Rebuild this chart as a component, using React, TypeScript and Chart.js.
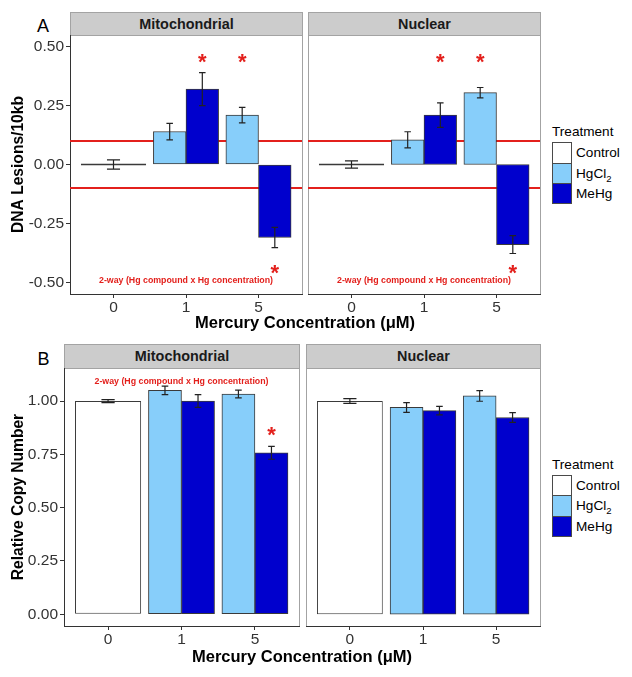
import React, { useEffect, useRef } from 'react';
import { Chart, registerables } from 'chart.js';

Chart.register(...registerables);

// ---------------- data ----------------
const concentrations = ['0', '1', '5'];
const controlConcs = ['0'];
const treatedConcs = ['1', '5'];

const lesionTickValues = [-0.5, -0.25, 0, 0.25, 0.5];
const lesionTickLabels = ['-0.50', '-0.25', '0.00', '0.25', '0.50'];
const copyTickValues = [0, 0.25, 0.5, 0.75, 1];
const copyTickLabels = ['0.00', '0.25', '0.50', '0.75', '1.00'];

// A – DNA lesions, mitochondrial
const lesionMitoControl = [0.0];
const lesionMitoControlSE = [0.02];
const lesionMitoHgCl2 = [0.14, 0.21];
const lesionMitoHgCl2SE = [0.035, 0.033];
const lesionMitoMeHg = [0.32, -0.31];
const lesionMitoMeHgSE = [0.07, 0.043];

// A – DNA lesions, nuclear
const lesionNucControl = [0.0];
const lesionNucControlSE = [0.015];
const lesionNucHgCl2 = [0.105, 0.305];
const lesionNucHgCl2SE = [0.034, 0.022];
const lesionNucMeHg = [0.21, -0.34];
const lesionNucMeHgSE = [0.052, 0.038];

const lesionThresholds = [0.1, -0.1];

// B – relative copy number, mitochondrial
const copyMitoControl = [1.0];
const copyMitoControlSE = [0.007];
const copyMitoHgCl2 = [1.05, 1.033];
const copyMitoHgCl2SE = [0.02, 0.018];
const copyMitoMeHg = [1.0, 0.757];
const copyMitoMeHgSE = [0.03, 0.03];

// B – relative copy number, nuclear
const copyNucControl = [1.0];
const copyNucControlSE = [0.011];
const copyNucHgCl2 = [0.97, 1.024];
const copyNucHgCl2SE = [0.023, 0.025];
const copyNucMeHg = [0.955, 0.923];
const copyNucMeHgSE = [0.02, 0.023];

// significance markers: [concentration, treatment, y]
const lesionMitoStars: [string, string, number][] = [['1', 'MeHg', 0.46], ['5', 'HgCl2', 0.46], ['5', 'MeHg', -0.435]];
const lesionNucStars: [string, string, number][] = [['1', 'MeHg', 0.46], ['5', 'HgCl2', 0.46], ['5', 'MeHg', -0.435]];
const copyMitoStars: [string, string, number][] = [['5', 'MeHg', 0.868]];
const copyNucStars: [string, string, number][] = [];

const noteText = '2-way (Hg compound x Hg concentration)';
const lesionNoteY = -0.495;
const copyNoteY = 1.092;

// ---------------- styles / layout ----------------
const FONT = "'Liberation Sans', Arial, Helvetica, sans-serif";
const COLORS: Record<string, string> = { Control: '#FFFFFF', HgCl2: '#87CEFA', MeHg: '#0000CD' };
const RED = '#E3201C';
const DODGE = 0.225;
const X_MIN = -0.6;
const X_MAX = 2.6;
const PAD = 4;
const X_AXIS_H = 28;

type Spec = {
  control: number[]; controlSE: number[];
  hg: number[]; hgSE: number[];
  me: number[]; meSE: number[];
  yMin: number; yMax: number;
  tickValues: number[]; tickLabels: string[];
  thresholds: number[];
  stars: [string, string, number][];
  noteY: number | null;
  yTitle: string | null;
};

function barDataset(label: string, concs: string[], values: number[], errs: number[], offset: number) {
  return {
    type: 'bar',
    label,
    concs,
    errors: errs,
    data: values.map((v, i) => ({ x: concentrations.indexOf(concs[i]) + offset, y: v })),
    backgroundColor: COLORS[label],
    borderColor: '#3A3A3A',
    borderWidth: 1,
    borderSkipped: false,
    grouped: false,
    categoryPercentage: 1,
    barPercentage: label === 'Control' ? 2 : 1,
    minBarLength: 2,
    order: 1,
  };
}

const panelPlugin = {
  id: 'panelDecor',
  beforeDraw(chart: any) {
    const { ctx, chartArea: a } = chart;
    ctx.save();
    ctx.strokeStyle = '#A3A3A3';
    ctx.lineWidth = 1;
    ctx.strokeRect(a.left + 0.5, a.top + 0.5, a.right - a.left, a.bottom - a.top);
    ctx.restore();
  },
  afterDatasetsDraw(chart: any) {
    const { ctx } = chart;
    const ys = chart.scales.y;
    const xs = chart.scales.x;
    const spec: Spec = chart.options.plugins.panelDecor.spec;
    // error bars
    chart.data.datasets.forEach((ds: any, di: number) => {
      if (!ds.errors) return;
      const meta = chart.getDatasetMeta(di);
      meta.data.forEach((bar: any, i: number) => {
        const v = ds.data[i].y;
        const e = ds.errors[i];
        const t = ys.getPixelForValue(v + e);
        const b = ys.getPixelForValue(v - e);
        const half = bar.width * 0.1;
        ctx.save();
        ctx.strokeStyle = '#222';
        ctx.lineWidth = 1.2;
        ctx.beginPath();
        ctx.moveTo(bar.x, t); ctx.lineTo(bar.x, b);
        ctx.moveTo(bar.x - half, t); ctx.lineTo(bar.x + half, t);
        ctx.moveTo(bar.x - half, b); ctx.lineTo(bar.x + half, b);
        ctx.stroke();
        ctx.restore();
      });
    });
    // significance stars
    spec.stars.forEach(([c, tr, yv]) => {
      const di = chart.data.datasets.findIndex((d: any) => d.label === tr);
      if (di < 0) return;
      const ds: any = chart.data.datasets[di];
      const idx = ds.concs.indexOf(c);
      const el: any = chart.getDatasetMeta(di).data[idx];
      const size = 22;
      ctx.save();
      ctx.fillStyle = RED;
      ctx.font = `bold ${size}px ${FONT}`;
      ctx.textAlign = 'center';
      ctx.textBaseline = 'alphabetic';
      ctx.fillText('*', el.x, ys.getPixelForValue(yv) + size * 0.58);
      ctx.restore();
    });
    // annotation
    if (spec.noteY !== null) {
      ctx.save();
      ctx.fillStyle = RED;
      ctx.font = `bold 8.8px ${FONT}`;
      ctx.textAlign = 'center';
      ctx.textBaseline = 'middle';
      ctx.fillText(noteText, xs.getPixelForValue(concentrations.indexOf('1')), ys.getPixelForValue(spec.noteY));
      ctx.restore();
    }
  },
};

function buildConfig(spec: Spec, isLeft: boolean, yAxisW: number) {
  const datasets: any[] = [
    ...spec.thresholds.map((t) => ({
      type: 'line',
      label: 'threshold',
      data: [{ x: X_MIN, y: t }, { x: X_MAX, y: t }],
      borderColor: RED,
      borderWidth: 2,
      pointRadius: 0,
      order: 5,
    })),
    barDataset('Control', controlConcs, spec.control, spec.controlSE, 0),
    barDataset('HgCl2', treatedConcs, spec.hg, spec.hgSE, -DODGE),
    barDataset('MeHg', treatedConcs, spec.me, spec.meSE, DODGE),
  ];
  return {
    type: 'bar',
    data: { datasets },
    plugins: [panelPlugin],
    options: {
      animation: false,
      responsive: false,
      devicePixelRatio: 1,
      layout: { autoPadding: false, padding: { left: isLeft ? 0 : PAD, right: PAD, top: PAD, bottom: 0 } },
      plugins: {
        legend: { display: false },
        tooltip: { enabled: false },
        panelDecor: { spec },
      },
      scales: {
        x: {
          type: 'linear',
          min: X_MIN,
          max: X_MAX,
          offset: false,
          afterBuildTicks: (s: any) => { s.ticks = concentrations.map((_, i) => ({ value: i })); },
          afterFit: (s: any) => { s.height = X_AXIS_H; s.paddingLeft = 0; s.paddingRight = 0; },
          ticks: {
            autoSkip: false,
            maxRotation: 0,
            padding: 0,
            color: '#333',
            font: { family: FONT, size: 15.5 },
            callback: (v: number) => concentrations[v],
          },
          grid: { display: true, drawOnChartArea: false, drawTicks: true, tickLength: 4, color: '#333', offset: false },
          border: { display: true, color: '#333', width: 1 },
        },
        y: {
          type: 'linear',
          display: isLeft,
          min: spec.yMin,
          max: spec.yMax,
          afterBuildTicks: (s: any) => { s.ticks = spec.tickValues.map((v) => ({ value: v })); },
          afterFit: (s: any) => { s.width = isLeft ? yAxisW : 0; s.paddingTop = 0; s.paddingBottom = 0; },
          ticks: {
            autoSkip: false,
            padding: 2,
            color: '#333',
            font: { family: FONT, size: 15.5 },
            callback: (v: number) => spec.tickLabels[spec.tickValues.indexOf(v)],
          },
          grid: { display: true, drawOnChartArea: false, drawTicks: true, tickLength: 4, color: '#333' },
          border: { display: true, color: '#333', width: 1 },
          title: {
            display: !!spec.yTitle,
            text: spec.yTitle || '',
            color: '#000',
            font: { family: FONT, size: 15.6, weight: 'bold' },
            padding: { top: 9, bottom: 0 },
          },
        },
      },
    },
  };
}

function Panel({ spec, left, right, top, bottom, isLeft }: { spec: Spec; left: number; right: number; top: number; bottom: number; isLeft: boolean }) {
  const ref = useRef<HTMLCanvasElement>(null);
  const cx = isLeft ? 0 : left - PAD;
  const cw = right + PAD - cx;
  const cy = top - PAD;
  const ch = bottom - top + PAD + X_AXIS_H;
  useEffect(() => {
    const chart = new Chart(ref.current as HTMLCanvasElement, buildConfig(spec, isLeft, left) as any);
    return () => chart.destroy();
  }, []);
  return (
    <canvas
      ref={ref}
      width={cw}
      height={ch}
      style={{ position: 'absolute', left: cx, top: cy, width: cw, height: ch }}
    />
  );
}

function Strip({ text, left, right, stripTop, top }: { text: string; left: number; right: number; stripTop: number; top: number }) {
  const h = top - stripTop + 1;
  return (
    <div
      style={{
        position: 'absolute', left, top: stripTop, width: right - left + 1, height: h,
        background: '#CCCCCC', border: '1px solid #A3A3A3', boxSizing: 'border-box',
        font: `bold 14.4px ${FONT}`, color: '#1A1A1A', textAlign: 'center', lineHeight: `${h - 2}px`,
      }}
    >
      {text}
    </div>
  );
}

const legendLabels = ['Control', 'HgCl2', 'MeHg'];

function Legend({ titleTop, boxTop }: { titleTop: number; boxTop: number }) {
  const KEY = 20.3;
  return (
    <>
      <div style={{ position: 'absolute', left: 552, top: titleTop, font: `13.6px ${FONT}`, lineHeight: '13.6px', color: '#000' }}>Treatment</div>
      {legendLabels.map((l, i) => (
        <React.Fragment key={l}>
          <div
            style={{
              position: 'absolute', left: 552, top: boxTop + i * KEY, width: 20, height: KEY + 1,
              background: COLORS[l], border: '1px solid #4A4A4A', boxSizing: 'border-box',
            }}
          />
          <div style={{ position: 'absolute', left: 576, top: boxTop + i * KEY + 1, height: KEY, font: `13.6px ${FONT}`, lineHeight: `${KEY}px`, color: '#000', whiteSpace: 'nowrap' }}>
            {l === 'HgCl2' ? (
              <span>HgCl<span style={{ fontSize: '9.5px', position: 'relative', top: '4px' }}>2</span></span>
            ) : l}
          </div>
        </React.Fragment>
      ))}
    </>
  );
}

function XTitle({ center, top }: { center: number; top: number }) {
  return (
    <div style={{ position: 'absolute', left: center - 150, width: 300, top, textAlign: 'center', font: `bold 16.5px ${FONT}`, lineHeight: '16.5px', color: '#000' }}>
      Mercury Concentration (μM)
    </div>
  );
}

const specs: Record<string, Spec> = {
  aMito: {
    control: lesionMitoControl, controlSE: lesionMitoControlSE, hg: lesionMitoHgCl2, hgSE: lesionMitoHgCl2SE,
    me: lesionMitoMeHg, meSE: lesionMitoMeHgSE, yMin: -0.55, yMax: 0.55,
    tickValues: lesionTickValues, tickLabels: lesionTickLabels, thresholds: lesionThresholds,
    stars: lesionMitoStars, noteY: lesionNoteY, yTitle: 'DNA Lesions/10kb',
  },
  aNuc: {
    control: lesionNucControl, controlSE: lesionNucControlSE, hg: lesionNucHgCl2, hgSE: lesionNucHgCl2SE,
    me: lesionNucMeHg, meSE: lesionNucMeHgSE, yMin: -0.55, yMax: 0.55,
    tickValues: lesionTickValues, tickLabels: lesionTickLabels, thresholds: lesionThresholds,
    stars: lesionNucStars, noteY: lesionNoteY, yTitle: null,
  },
  bMito: {
    control: copyMitoControl, controlSE: copyMitoControlSE, hg: copyMitoHgCl2, hgSE: copyMitoHgCl2SE,
    me: copyMitoMeHg, meSE: copyMitoMeHgSE, yMin: -0.055, yMax: 1.155,
    tickValues: copyTickValues, tickLabels: copyTickLabels, thresholds: [],
    stars: copyMitoStars, noteY: copyNoteY, yTitle: 'Relative Copy Number',
  },
  bNuc: {
    control: copyNucControl, controlSE: copyNucControlSE, hg: copyNucHgCl2, hgSE: copyNucHgCl2SE,
    me: copyNucMeHg, meSE: copyNucMeHgSE, yMin: -0.055, yMax: 1.155,
    tickValues: copyTickValues, tickLabels: copyTickLabels, thresholds: [],
    stars: copyNucStars, noteY: null, yTitle: null,
  },
};

export default function App() {
  const A = { stripTop: 12, top: 35, bottom: 294, mito: [70, 302], nuc: [308, 540] };
  const B = { stripTop: 344, top: 368, bottom: 626, mito: [64, 299], nuc: [306, 540] };
  return (
    <div style={{ position: 'absolute', left: 0, top: 0, width: 632, height: 677, background: '#FFFFFF', overflow: 'hidden' }}>
      <div style={{ position: 'absolute', left: 37, top: 16.5, font: `18px ${FONT}`, lineHeight: '18px', color: '#000' }}>A</div>
      <div style={{ position: 'absolute', left: 37.5, top: 349.8, font: `18px ${FONT}`, lineHeight: '18px', color: '#000' }}>B</div>

      <Strip text="Mitochondrial" left={A.mito[0]} right={A.mito[1]} stripTop={A.stripTop} top={A.top} />
      <Strip text="Nuclear" left={A.nuc[0]} right={A.nuc[1]} stripTop={A.stripTop} top={A.top} />
      <Panel spec={specs.aMito} left={A.mito[0]} right={A.mito[1]} top={A.top} bottom={A.bottom} isLeft={true} />
      <Panel spec={specs.aNuc} left={A.nuc[0]} right={A.nuc[1]} top={A.top} bottom={A.bottom} isLeft={false} />
      <XTitle center={305} top={314} />
      <Legend titleTop={125.2} boxTop={142.3} />

      <Strip text="Mitochondrial" left={B.mito[0]} right={B.mito[1]} stripTop={B.stripTop} top={B.top} />
      <Strip text="Nuclear" left={B.nuc[0]} right={B.nuc[1]} stripTop={B.stripTop} top={B.top} />
      <Panel spec={specs.bMito} left={B.mito[0]} right={B.mito[1]} top={B.top} bottom={B.bottom} isLeft={true} />
      <Panel spec={specs.bNuc} left={B.nuc[0]} right={B.nuc[1]} top={B.top} bottom={B.bottom} isLeft={false} />
      <XTitle center={302} top={648} />
      <Legend titleTop={457.5} boxTop={475} />
    </div>
  );
}
